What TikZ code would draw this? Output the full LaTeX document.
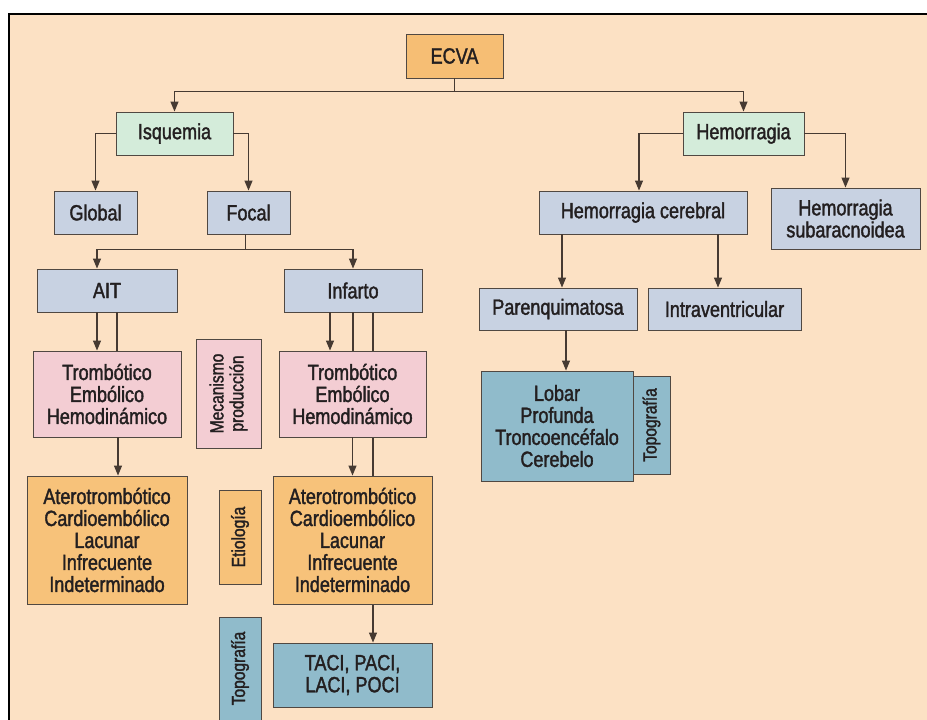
\documentclass[tikz,border=0pt]{standalone}
\usepackage{fontspec}
\setmainfont{Liberation Sans}[FakeStretch=0.82,FakeBold=1.6]
\usetikzlibrary{arrows.meta}
\definecolor{bgpeach}{RGB}{252,225,196}
\definecolor{ecvaor}{RGB}{246,190,116}
\definecolor{grn}{RGB}{212,236,218}
\definecolor{blu}{RGB}{200,210,226}
\definecolor{pnk}{RGB}{243,205,211}
\definecolor{orn}{RGB}{247,194,122}
\definecolor{teal}{RGB}{144,187,203}
\definecolor{boxline}{RGB}{80,72,66}
\definecolor{lnc}{RGB}{70,58,50}
\definecolor{txt}{RGB}{35,31,32}
\pgfdeclarelayer{back}
\pgfdeclarelayer{bg}
\pgfsetlayers{back,bg,main}
\begin{document}
\begin{tikzpicture}[x=1pt,y=-1pt,
  box/.style={draw=boxline, line width=0.9pt, inner sep=0pt, align=center, text=txt, font=\fontsize{22}{22}\selectfont},
  vlab/.style={box, rotate=90, font=\fontsize{19}{20}\selectfont},
  conn/.style={draw=lnc, line width=1.1pt},
  arr/.style={conn, -{Triangle[width=8pt,length=10pt]}}]
\useasboundingbox (0,0) rectangle (927,720);
\begin{pgfonlayer}{back}
\fill[bgpeach] (9,14) rectangle (927,720);
\draw[line width=2pt, black] (9,720) -- (9,14) -- (927,14);
\end{pgfonlayer}

% nodes
\node[box, fill=ecvaor, minimum width=97pt, minimum height=44pt] (ecva) at (454.5,56) {ECVA};
\node[box, fill=grn, minimum width=117pt, minimum height=43pt] (isq) at (174.5,133.5) {Isquemia};
\node[box, fill=grn, minimum width=121pt, minimum height=43pt] (hem) at (743.5,133.5) {Hemorragia};
\node[box, fill=blu, minimum width=83pt, minimum height=43pt] (global) at (95.5,212.5) {Global};
\node[box, fill=blu, minimum width=83pt, minimum height=43pt] (focal) at (248.5,212.5) {Focal};
\node[box, fill=blu, minimum width=208pt, minimum height=43pt] (hc) at (643,212.5) {Hemorragia cerebral};
\node[box, fill=blu, minimum width=149pt, minimum height=61pt] (sub) at (845.5,218.5) {Hemorragia\\subaracnoidea};
\node[box, fill=blu, minimum width=140pt, minimum height=43pt] (ait) at (107,290.5) {AIT};
\node[box, fill=blu, minimum width=138pt, minimum height=43pt] (inf) at (353,290.5) {Infarto};
\node[box, fill=blu, minimum width=158pt, minimum height=42pt] (par) at (558,309) {Parenquimatosa};
\node[box, fill=blu, minimum width=153pt, minimum height=42pt] (intra) at (724.5,309) {Intraventricular};
\node[box, fill=pnk, minimum width=148pt, minimum height=86pt] (pinkA) at (107,394) {Trombótico\\Embólico\\Hemodinámico};
\node[box, fill=pnk, minimum width=147pt, minimum height=86pt] (pinkI) at (352.5,394) {Trombótico\\Embólico\\Hemodinámico};
\node[vlab, fill=pnk, minimum width=109pt, minimum height=65pt] (mec) at (228.5,393.5) {Mecanismo\\producción};
\node[box, fill=orn, minimum width=160pt, minimum height=128pt] (orA) at (107,540) {Aterotrombótico\\Cardioembólico\\Lacunar\\Infrecuente\\Indeterminado};
\node[box, fill=orn, minimum width=159pt, minimum height=128pt] (orI) at (352.5,540) {Aterotrombótico\\Cardioembólico\\Lacunar\\Infrecuente\\Indeterminado};
\node[vlab, fill=orn, minimum width=94pt, minimum height=42pt] (eti) at (240,537) {Etiología};
\node[vlab, fill=teal, minimum width=103pt, minimum height=42pt] (topo1) at (240,668.5) {Topografía};
\node[box, fill=teal, minimum width=159pt, minimum height=64pt] (taci) at (352.5,675) {TACI, PACI,\\LACI, POCI};
\node[vlab, fill=teal, minimum width=98pt, minimum height=37pt] (lobtab) at (651.5,425) {Topografía};
\node[box, fill=teal, minimum width=152pt, minimum height=110pt] (lob) at (557,426) {Lobar\\Profunda\\Troncoencéfalo\\Cerebelo};

% connectors
\draw[conn] (ecva.south) -- ++(0,13) coordinate (j1);
\draw[arr] (j1) -| (isq.north);
\draw[arr] (j1) -| (hem.north);
\draw[arr] (isq.west) -| (global.north);
\draw[arr] (isq.east) -| (focal.north);
\draw[arr] (hem.west) -| ([xshift=-4pt]hc.north);
\draw[arr] (hem.east) -| (sub.north);
\draw[conn] ([xshift=-3pt]focal.south) -- ++(0,15) coordinate (j2);
\draw[arr] (j2) -| ([xshift=-10pt]ait.north);
\draw[arr] (j2) -| (inf.north);

\draw[arr] ([xshift=-10pt]ait.south) -- ([xshift=-10pt]ait.south |- pinkA.north);
\draw[conn] ([xshift=10pt]ait.south) -- ([xshift=10pt]ait.south |- pinkA.north);
\draw[arr] ([xshift=11pt]pinkA.south) -- ([xshift=11pt]pinkA.south |- orA.north);

\draw[arr] ([xshift=-23pt]inf.south) -- ([xshift=-23pt]inf.south |- pinkI.north);
\draw[conn] (inf.south) -- (inf.south |- pinkI.north);
\begin{pgfonlayer}{bg}
\draw[arr] ([xshift=20pt]inf.south) -- ([xshift=20pt]inf.south |- taci.north);
\end{pgfonlayer}
\draw[arr] (pinkI.south) -- (pinkI.south |- orI.north);

\draw[arr] ([xshift=-81pt]hc.south) -- ([xshift=-81pt]hc.south |- par.north);
\draw[arr] ([xshift=75pt]hc.south) -- ([xshift=75pt]hc.south |- intra.north);
\draw[arr] ([xshift=8pt]par.south) -- ([xshift=8pt]par.south |- lob.north);
\end{tikzpicture}
\end{document}
